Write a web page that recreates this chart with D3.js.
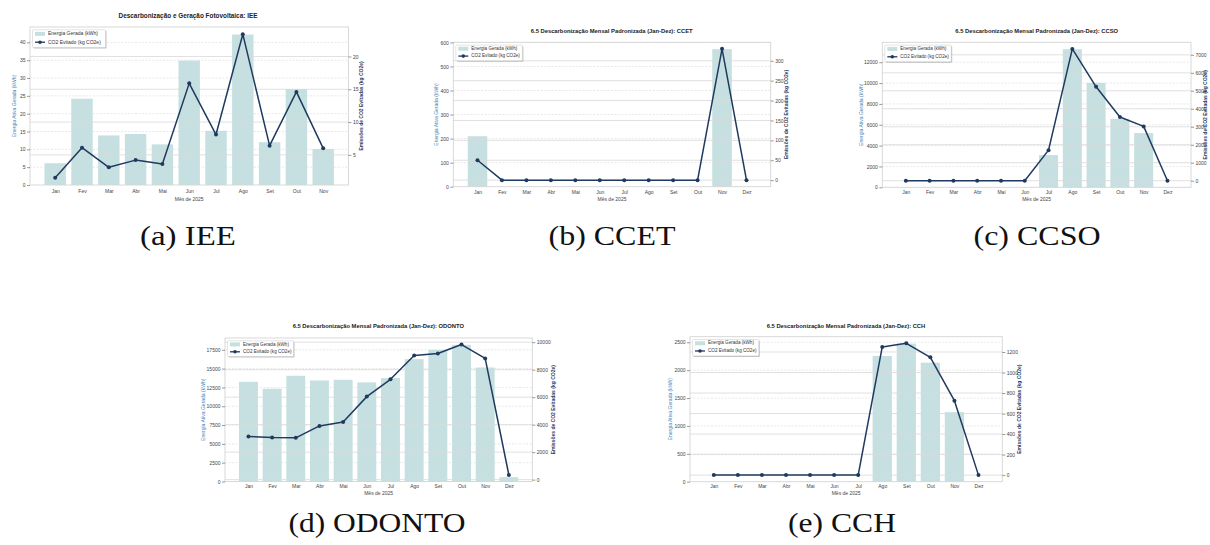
<!DOCTYPE html>
<html>
<head>
<meta charset="utf-8">
<script src="https://cdn.jsdelivr.net/npm/d3@7"></script>
<style>
  body { margin: 0; background: #fff; }
  text { font-family: "Liberation Sans", Arial, sans-serif; }
  text.cap { font-family: "Liberation Serif", "DejaVu Serif", serif; }
</style>
</head>
<body>
<div id="fig"></div>
<script>
// month names on the x axis
var months = ["Jan", "Fev", "Mar", "Abr", "Mai", "Jun", "Jul", "Ago", "Set", "Out", "Nov", "Dez"]

// (a) IEE - only Jan..Nov
var ieeEnergia = [6.1, 24.2, 13.9, 14.3, 11.4, 34.9, 15.2, 42.2, 12.0, 26.9, 10.1]
var ieeCO2 = [1.5, 6.1, 3.1, 4.2, 3.6, 15.9, 8.1, 23.4, 6.4, 14.6, 6.0]
var ieeLeftTicks = [0, 5, 10, 15, 20, 25, 30, 35, 40]
var ieeRightTicks = [5, 10, 15, 20]

// (b) CCET
var ccetEnergia = [210, 0, 0, 0, 0, 0, 0, 0, 0, 0, 572, 0]
var ccetCO2 = [50, 0, 0, 0, 0, 0, 0, 0, 0, 0, 330, 0]
var ccetLeftTicks = [0, 100, 200, 300, 400, 500, 600]
var ccetRightTicks = [0, 50, 100, 150, 200, 250, 300]

// (c) CCSO
var ccsoEnergia = [0, 0, 0, 0, 0, 0, 3090, 13250, 10020, 6550, 5200, 0]
var ccsoCO2 = [0, 0, 0, 0, 0, 0, 1700, 7330, 5220, 3540, 3020, 0]
var ccsoLeftTicks = [0, 2000, 4000, 6000, 8000, 10000, 12000]
var ccsoRightTicks = [0, 1000, 2000, 3000, 4000, 5000, 6000, 7000]

// (d) ODONTO
var odontoEnergia = [13250, 12330, 14050, 13430, 13520, 13170, 13740, 16260, 17500, 18160, 15150, 570]
var odontoCO2 = [3140, 3070, 3040, 3910, 4200, 6040, 7300, 9030, 9180, 9830, 8820, 340]
var odontoLeftTicks = [0, 2500, 5000, 7500, 10000, 12500, 15000, 17500]
var odontoRightTicks = [0, 2000, 4000, 6000, 8000, 10000]

// (e) CCH
var cchEnergia = [0, 0, 0, 0, 0, 0, 0, 2254, 2476, 2134, 1247, 0]
var cchCO2 = [0, 0, 0, 0, 0, 0, 0, 1249, 1285, 1148, 725, 0]
var cchLeftTicks = [0, 500, 1000, 1500, 2000, 2500]
var cchRightTicks = [0, 200, 400, 600, 800, 1000, 1200]

var barColor = "#c6e0e1"
var lineColor = "#1f3a5f"

var panels = [
  {title: "Descarbonização e Geração Fotovoltaica: IEE", caption: "(a) IEE",
   energia: ieeEnergia, co2: ieeCO2, lt: ieeLeftTicks, rt: ieeRightTicks,
   x0: 30, x1: 348.4, y0: 27, y1: 185, titleX: 188, titleY: 16, titleSize: 6.4,
   lx: 14.3, rx: 362, tickDy: 6.7, labDy: 14.5, legW: 73, legH: 17.7, legFont: 5,
   capX: 188, capY: 245, capW: 96},
  {title: "6.5 Descarbonização Mensal Padronizada (Jan-Dez): CCET", caption: "(b) CCET",
   energia: ccetEnergia, co2: ccetCO2, lt: ccetLeftTicks, rt: ccetRightTicks,
   x0: 453.3, x1: 770.7, y0: 42.3, y1: 186.7, titleX: 611.7, titleY: 31.7, titleSize: 5.8,
   lx: 436.7, rx: 787, tickDy: 6, labDy: 12.5, legW: 66.6, legH: 15.7, legFont: 4.6,
   capX: 612, capY: 245, capW: 127},
  {title: "6.5 Descarbonização Mensal Padronizada (Jan-Dez): CCSO", caption: "(c) CCSO",
   energia: ccsoEnergia, co2: ccsoCO2, lt: ccsoLeftTicks, rt: ccsoRightTicks,
   x0: 882.3, x1: 1191, y0: 42.3, y1: 187.3, titleX: 1036.7, titleY: 31.7, titleSize: 5.8,
   lx: 861.7, rx: 1206, tickDy: 6, labDy: 12.5, legW: 66.4, legH: 16.7, legFont: 4.6,
   capX: 1037, capY: 245, capW: 127},
  {title: "6.5 Descarbonização Mensal Padronizada (Jan-Dez): ODONTO", caption: "(d) ODONTO",
   energia: odontoEnergia, co2: odontoCO2, lt: odontoLeftTicks, rt: odontoRightTicks,
   x0: 225, x1: 532.3, y0: 338, y1: 481.5, titleX: 378.3, titleY: 326, titleSize: 5.8,
   lx: 204, rx: 553.3, tickDy: 5.3, labDy: 11.8, legW: 66, legH: 15.7, legFont: 4.6,
   capX: 377, capY: 532, capW: 177},
  {title: "6.5 Descarbonização Mensal Padronizada (Jan-Dez): CCH", caption: "(e) CCH",
   energia: cchEnergia, co2: cchCO2, lt: cchLeftTicks, rt: cchRightTicks,
   x0: 690, x1: 1002.3, y0: 336.7, y1: 481.7, titleX: 846, titleY: 326, titleSize: 5.8,
   lx: 671, rx: 1020, tickDy: 5.3, labDy: 11.5, legW: 66.3, legH: 16.4, legFont: 4.6,
   capX: 842, capY: 532, capW: 108}
]

var svg = d3.select("#fig").append("svg")
  .attr("width", 1210)
  .attr("height", 545)

panels.forEach(drawPanel)

function drawPanel(p) {
  var n = p.energia.length
  var g = svg.append("g")

  // matplotlib style limits: bars +-0.4 and 5% margin
  var span = (n - 1) + 0.8
  var x = d3.scaleLinear()
    .domain([-0.4 - 0.05 * span, n - 1 + 0.4 + 0.05 * span])
    .range([p.x0, p.x1])
  var yL = d3.scaleLinear()
    .domain([0, d3.max(p.energia) * 1.05])
    .range([p.y1, p.y0])
  var lo = d3.min(p.co2), hi = d3.max(p.co2), pad = (hi - lo) * 0.05
  var yR = d3.scaleLinear()
    .domain([lo - pad, hi + pad])
    .range([p.y1, p.y0])

  // left grid, dashed and faint
  g.append("g").selectAll("line")
    .data(p.lt.filter(d => d > 0))
    .enter().append("line")
      .attr("x1", p.x0).attr("x2", p.x1)
      .attr("y1", d => yL(d)).attr("y2", d => yL(d))
      .attr("stroke", "#d8d8d8")
      .attr("stroke-width", 0.6)
      .attr("stroke-dasharray", "2,1.5")

  // bars
  var bw = x(0.4) - x(-0.4)
  g.append("g").selectAll("rect")
    .data(p.energia)
    .enter().append("rect")
      .attr("x", (d, i) => x(i) - bw / 2)
      .attr("width", bw)
      .attr("y", d => yL(d))
      .attr("height", d => yL(0) - yL(d))
      .attr("fill", barColor)

  // right grid, solid (twin axis is drawn over the bars)
  g.append("g").selectAll("line")
    .data(p.rt)
    .enter().append("line")
      .attr("x1", p.x0).attr("x2", p.x1)
      .attr("y1", d => yR(d)).attr("y2", d => yR(d))
      .attr("stroke", "#d9d9d9")
      .attr("stroke-opacity", 0.9)
      .attr("stroke-width", 0.9)

  // frame
  g.append("rect")
    .attr("x", p.x0).attr("y", p.y0)
    .attr("width", p.x1 - p.x0).attr("height", p.y1 - p.y0)
    .attr("fill", "none")
    .attr("stroke", "#d4d4d4")
    .attr("stroke-width", 0.9)

  // line + markers
  var line = d3.line().x((d, i) => x(i)).y(d => yR(d))
  g.append("path")
    .datum(p.co2)
    .attr("d", line)
    .attr("fill", "none")
    .attr("stroke", lineColor)
    .attr("stroke-width", 1.5)
    .attr("stroke-linejoin", "round")
  g.append("g").selectAll("circle")
    .data(p.co2)
    .enter().append("circle")
      .attr("cx", (d, i) => x(i))
      .attr("cy", d => yR(d))
      .attr("r", 2)
      .attr("fill", lineColor)

  // axes
  var left = g.append("g")
    .attr("transform", "translate(" + p.x0 + ",0)")
    .call(d3.axisLeft(yL).tickValues(p.lt).tickSize(3).tickPadding(1.5).tickFormat(d3.format("d")))
  var right = g.append("g")
    .attr("transform", "translate(" + p.x1 + ",0)")
    .call(d3.axisRight(yR).tickValues(p.rt).tickSize(3).tickPadding(1.5).tickFormat(d3.format("d")))
  var bottom = g.append("g")
    .attr("transform", "translate(0," + (p.y1 + p.tickDy - 2.5) + ")")
    .call(d3.axisBottom(x).tickValues(d3.range(n)).tickSize(0).tickPadding(0).tickFormat(i => months[i]))
  ;[left, right, bottom].forEach(function(a) {
    a.select(".domain").remove()
    a.selectAll("line").attr("stroke", "#555").attr("stroke-width", 0.6)
    a.selectAll("text").attr("font-size", 5).attr("fill", "#444")
  })

  // labels
  g.append("text")
    .attr("x", (p.x0 + p.x1) / 2).attr("y", p.y1 + p.labDy)
    .attr("text-anchor", "middle").attr("dominant-baseline", "middle")
    .attr("font-size", 5).attr("fill", "#444")
    .text("Mês de 2025")
  g.append("text")
    .attr("transform", "translate(" + p.lx + "," + (p.y0 + p.y1) / 2 + ") rotate(-90)")
    .attr("text-anchor", "middle").attr("dominant-baseline", "middle")
    .attr("font-size", 5).attr("fill", "#4a86b8")
    .text("Energia Ativa Gerada (kWh)")
  g.append("text")
    .attr("transform", "translate(" + p.rx + "," + (p.y0 + p.y1) / 2 + ") rotate(-90)")
    .attr("text-anchor", "middle").attr("dominant-baseline", "middle")
    .attr("font-size", 5).attr("font-weight", "bold").attr("fill", lineColor)
    .text("Emissões de CO2 Evitadas (kg CO2e)")
  g.append("text")
    .attr("x", p.titleX).attr("y", p.titleY)
    .attr("text-anchor", "middle").attr("dominant-baseline", "middle")
    .attr("font-size", p.titleSize).attr("font-weight", "bold").attr("fill", "#222")
    .text(p.title)

  // legend
  var lg = g.append("g").attr("transform", "translate(" + (p.x0 + 2.5) + "," + (p.y0 + 2.8) + ")")
  lg.append("rect").attr("x", 1).attr("y", 1).attr("width", p.legW).attr("height", p.legH)
    .attr("rx", 1).attr("fill", "#9a9a9a").attr("opacity", 0.6)
  lg.append("rect").attr("width", p.legW).attr("height", p.legH)
    .attr("rx", 1).attr("fill", "#fff").attr("stroke", "#c8c8c8").attr("stroke-width", 0.5)
  var r1 = p.legH * 0.23, r2 = p.legH * 0.7
  lg.append("rect").attr("x", 2.5).attr("y", r1 - 2).attr("width", 10).attr("height", 4).attr("fill", barColor)
  lg.append("line").attr("x1", 2.5).attr("x2", 12.5).attr("y1", r2).attr("y2", r2)
    .attr("stroke", lineColor).attr("stroke-width", 1.3)
  lg.append("circle").attr("cx", 7.5).attr("cy", r2).attr("r", 1.8).attr("fill", lineColor)
  lg.selectAll("text.lab")
    .data(["Energia Gerada (kWh)", "CO2 Evitado (kg CO2e)"])
    .enter().append("text")
      .attr("x", 15.5).attr("y", (d, i) => i ? r2 : r1)
      .attr("dominant-baseline", "middle")
      .attr("font-size", p.legFont).attr("fill", "#333")
      .text(d => d)

  // caption under the sub-figure
  svg.append("text")
    .attr("class", "cap")
    .attr("x", p.capX).attr("y", p.capY)
    .attr("text-anchor", "middle")
    .attr("font-size", 27)
    .attr("textLength", p.capW)
    .attr("lengthAdjust", "spacingAndGlyphs")
    .attr("fill", "#111")
    .text(p.caption)
}
</script>
</body>
</html>
